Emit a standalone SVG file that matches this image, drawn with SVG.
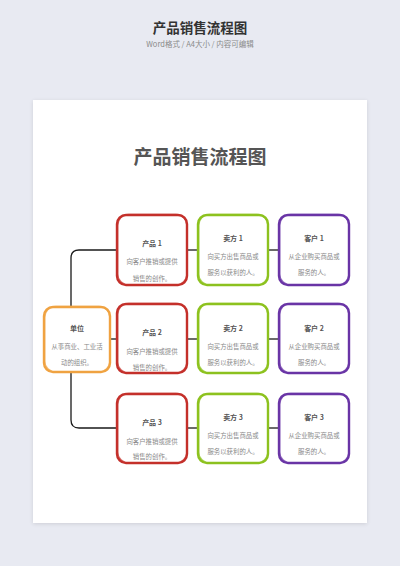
<svg xmlns="http://www.w3.org/2000/svg" width="400" height="566" viewBox="0 0 400 566">
<defs>
<filter id="shadow" x="-5%" y="-5%" width="110%" height="110%">
<feGaussianBlur in="SourceAlpha" stdDeviation="2"/>
<feOffset dy="1"/>
<feComponentTransfer><feFuncA type="linear" slope="0.12"/></feComponentTransfer>
<feMerge><feMergeNode/><feMergeNode in="SourceGraphic"/></feMerge>
</filter>
</defs>
<style>
text{font-family:"Noto Sans CJK SC","Noto Sans",sans-serif;text-anchor:middle}
.box{fill:#fff;stroke-width:2.4}
.sk{fill:none;stroke-width:1.2;opacity:0.7}
.red{stroke:#c4302b}
.green{stroke:#8dc21f}
.purple{stroke:#6a35a6}
.orange{stroke:#f0a342}
.t{font-size:7px;font-weight:bold;fill:#555}
.d{font-size:6.4px;fill:#888}
.conn{fill:none;stroke:#1a1a1a;stroke-width:1.3}
</style>
<rect width="400" height="566" fill="#e8eaf2"/>
<text x="200" y="33" style="font-size:13.5px;font-weight:bold;fill:#333">产品销售流程图</text>
<text x="200" y="47" style="font-size:7.5px;fill:#8a8a8a">Word格式 / A4大小 / 内容可编辑</text>
<rect x="33" y="100" width="334" height="423" fill="#fff" filter="url(#shadow)"/>
<text x="200" y="164" style="font-size:19px;font-weight:bold;fill:#555">产品销售流程图</text>

<g id="connectors">
<path class="conn" d="M71 307 V258 Q71 250 79 250 H117"/>
<path class="conn" d="M71 372 V420 Q71 428 79 428 H117"/>
<path class="conn" d="M110 339 H117"/>
<path class="conn" d="M187 250 H198"/>
<path class="conn" d="M268 250 H279"/>
<path class="conn" d="M187 339 H198"/>
<path class="conn" d="M268 339 H279"/>
<path class="conn" d="M187 428 H198"/>
<path class="conn" d="M268 428 H279"/>
</g>

<g id="node-danwei">
<rect class="box orange" x="44" y="307" width="66" height="65" rx="9"/>
<rect class="sk orange" x="44.8" y="306.4" width="65" height="65.6" rx="11"/>
<text class="t" x="77" y="331">单位</text>
<text class="d" x="77" y="349">从事商业、工业活</text>
<text class="d" x="77" y="365">动的组织。</text>
</g>

<g id="node-chanpin1">
<rect class="box red" x="117" y="215" width="70" height="70" rx="9"/>
<rect class="sk red" x="117.8" y="214.4" width="69" height="70.6" rx="11"/>
<text class="t" x="152" y="246">产品 1</text>
<text class="d" x="152" y="264">向客户推销或提供</text>
<text class="d" x="152" y="281">销售的创作。</text>
</g>
<g id="node-maifang1">
<rect class="box green" x="198" y="215" width="70" height="70" rx="9"/>
<rect class="sk green" x="198.8" y="214.4" width="69" height="70.6" rx="11"/>
<text class="t" x="233" y="241">卖方 1</text>
<text class="d" x="233" y="259">向买方出售商品或</text>
<text class="d" x="233" y="275">服务以获利的人。</text>
</g>
<g id="node-kehu1">
<rect class="box purple" x="279" y="215" width="70" height="70" rx="9"/>
<rect class="sk purple" x="279.8" y="214.4" width="69" height="70.6" rx="11"/>
<text class="t" x="314" y="241">客户 1</text>
<text class="d" x="314" y="259">从企业购买商品或</text>
<text class="d" x="314" y="275">服务的人。</text>
</g>

<g id="node-chanpin2">
<rect class="box red" x="117" y="304" width="70" height="69" rx="9"/>
<rect class="sk red" x="117.8" y="303.4" width="69" height="69.6" rx="11"/>
<text class="t" x="152" y="335">产品 2</text>
<text class="d" x="152" y="354">向客户推销或提供</text>
<text class="d" x="152" y="370">销售的创作。</text>
</g>
<g id="node-maifang2">
<rect class="box green" x="198" y="304" width="70" height="69" rx="9"/>
<rect class="sk green" x="198.8" y="303.4" width="69" height="69.6" rx="11"/>
<text class="t" x="233" y="331">卖方 2</text>
<text class="d" x="233" y="349">向买方出售商品或</text>
<text class="d" x="233" y="365">服务以获利的人。</text>
</g>
<g id="node-kehu2">
<rect class="box purple" x="279" y="304" width="70" height="69" rx="9"/>
<rect class="sk purple" x="279.8" y="303.4" width="69" height="69.6" rx="11"/>
<text class="t" x="314" y="331">客户 2</text>
<text class="d" x="314" y="349">从企业购买商品或</text>
<text class="d" x="314" y="365">服务的人。</text>
</g>

<g id="node-chanpin3">
<rect class="box red" x="117" y="394" width="70" height="69" rx="9"/>
<rect class="sk red" x="117.8" y="393.4" width="69" height="69.6" rx="11"/>
<text class="t" x="152" y="425">产品 3</text>
<text class="d" x="152" y="444">向客户推销或提供</text>
<text class="d" x="152" y="459">销售的创作。</text>
</g>
<g id="node-maifang3">
<rect class="box green" x="198" y="394" width="70" height="69" rx="9"/>
<rect class="sk green" x="198.8" y="393.4" width="69" height="69.6" rx="11"/>
<text class="t" x="233" y="420">卖方 3</text>
<text class="d" x="233" y="438">向买方出售商品或</text>
<text class="d" x="233" y="454">服务以获利的人。</text>
</g>
<g id="node-kehu3">
<rect class="box purple" x="279" y="394" width="70" height="69" rx="9"/>
<rect class="sk purple" x="279.8" y="393.4" width="69" height="69.6" rx="11"/>
<text class="t" x="314" y="420">客户 3</text>
<text class="d" x="314" y="438">从企业购买商品或</text>
<text class="d" x="314" y="454">服务的人。</text>
</g>
</svg>
